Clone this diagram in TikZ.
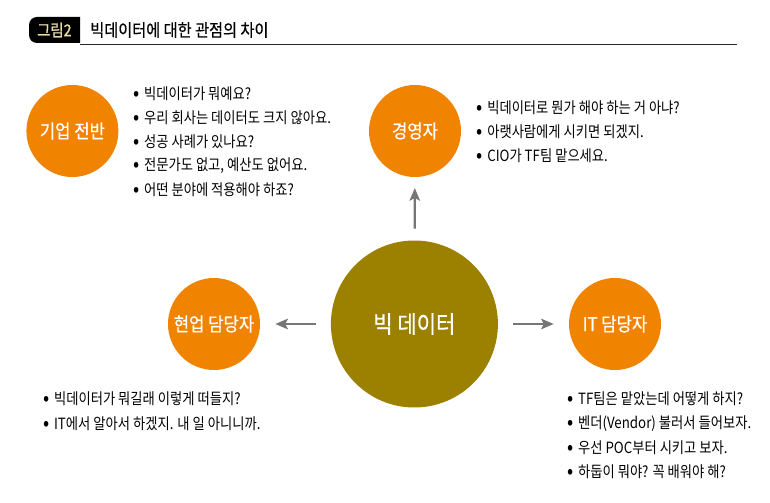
\documentclass[tikz,border=0pt]{standalone}
\usepackage{fontspec}
\setmainfont{Noto Sans CJK KR}
\newfontfamily\krtext[FakeStretch=0.86]{Noto Sans CJK KR}
\newfontfamily\krhead[FakeStretch=0.88,FakeBold=0.6]{Noto Sans CJK KR}
\newfontfamily\krtitle[FakeStretch=0.88,FakeBold=0.5]{Noto Sans CJK KR}
\newfontfamily\krtag[FakeStretch=0.88,FakeBold=1.2]{Noto Sans CJK KR}
\definecolor{orangecircle}{HTML}{F08300}
\definecolor{olivecircle}{HTML}{9C8000}
\definecolor{tagtext}{HTML}{E9DCA8}
\definecolor{arrowgray}{HTML}{767676}
\usetikzlibrary{arrows.meta}
\newcommand{\saydot}{\makebox[0.245cm][l]{\hspace{-0.8pt}\raisebox{-0.6pt}{\fontsize{15}{15}\selectfont •}}}
\tikzset{
  smallcircle/.style={circle,fill=orangecircle,text=white,minimum size=2.3cm,inner sep=0pt,font=\krhead\fontsize{13.5}{13.5}\selectfont},
  bigcircle/.style={circle,fill=olivecircle,text=white,minimum size=4.175cm,inner sep=0pt,font=\krhead\fontsize{17}{17}\selectfont},
  saying/.style={anchor=west,inner sep=0pt,font=\krtext\fontsize{11}{11}\selectfont},
  titletext/.style={anchor=west,inner sep=0pt,font=\krtitle\fontsize{12.3}{12.3}\selectfont},
  link/.style={draw=arrowgray,line width=1.6pt,-{Stealth[length=9pt,width=7.5pt,inset=2pt]}}
}
\begin{document}
\begin{tikzpicture}
            \useasboundingbox (0,0) rectangle (19.25,12.55);

            \fill[black,rounded corners=0.2cm] (2,11.475) -- (0.725,11.475) -- (0.725,12.125) -- (2,12.125);
            \fill[black] (1.7,11.475) rectangle (2,12.125);
            \node[text=tagtext,font=\krtag\fontsize{11.6}{11.6}\selectfont] (tag) at (1.36,11.8) {그림2};
            \node[titletext] (title) at (2.25,11.8) {빅데이터에 대한 관점의 차이};
            \coordinate (rulestart) at (2,11.4375);
            \coordinate (ruleend) at (18.425,11.4375);
            \draw[line width=0.8pt,black!85] (rulestart) -- (ruleend);

            \node[bigcircle] (bigdata) at (10.36,4.45) {빅 데이터};
            \node[smallcircle] (company) at (1.81,9.275) {기업 전반};
            \node[smallcircle] (ceo) at (10.375,9.275) {경영자};
            \node[smallcircle] (staff) at (5.35,4.45) {현업 담당자};
            \node[smallcircle] (itstaff) at (15.375,4.45) {IT 담당자};

            \draw[link,shorten <=0.29cm,shorten >=0.27cm] (bigdata) -- (ceo);
            \draw[link,shorten <=0.375cm,shorten >=0.375cm] (bigdata) -- (staff);
            \draw[link,shorten <=0.375cm,shorten >=0.375cm] (bigdata) -- (itstaff);

            \node[saying] (company1) at (3.35,10.2) {\saydot 빅데이터가 뭐예요?};
            \node[saying] (company2) at (3.35,9.6) {\saydot 우리 회사는 데이터도 크지 않아요.};
            \node[saying] (company3) at (3.35,9.0) {\saydot 성공 사례가 있나요?};
            \node[saying] (company4) at (3.35,8.4) {\saydot 전문가도 없고, 예산도 없어요.};
            \node[saying] (company5) at (3.35,7.8) {\saydot 어떤 분야에 적용해야 하죠?};

            \node[saying] (ceo1) at (11.93,9.85) {\saydot 빅데이터로 뭔가 해야 하는 거 아냐?};
            \node[saying] (ceo2) at (11.93,9.25) {\saydot 아랫사람에게 시키면 되겠지.};
            \node[saying] (ceo3) at (11.93,8.65) {\saydot CIO가 TF팀 맡으세요.};

            \node[saying] (staff1) at (1.1,2.575) {\saydot 빅데이터가 뭐길래 이렇게 떠들지?};
            \node[saying] (staff2) at (1.1,1.95) {\saydot IT에서 알아서 하겠지. 내 일 아니니까.};

            \node[saying] (itstaff1) at (14.2,2.575) {\saydot TF팀은 맡았는데 어떻게 하지?};
            \node[saying] (itstaff2) at (14.2,1.95) {\saydot 벤더(Vendor) 불러서 들어보자.};
            \node[saying] (itstaff3) at (14.2,1.35) {\saydot 우선 POC부터 시키고 보자.};
            \node[saying] (itstaff4) at (14.2,0.75) {\saydot 하둡이 뭐야? 꼭 배워야 해?};
\end{tikzpicture}
\end{document}
